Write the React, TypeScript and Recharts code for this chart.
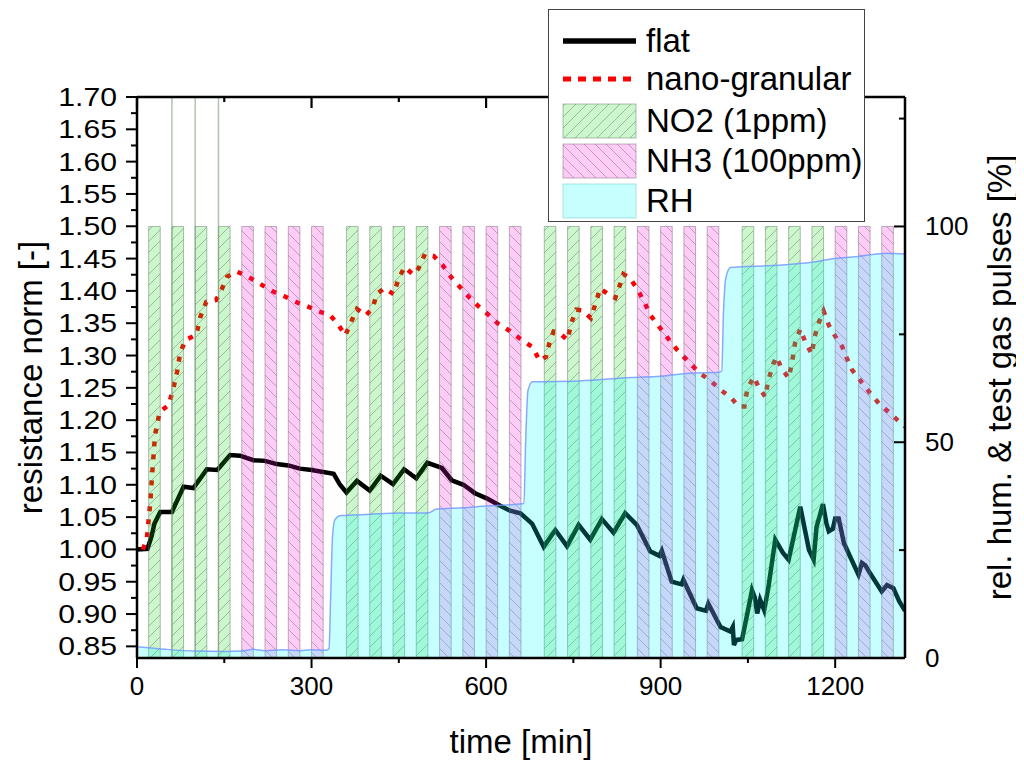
import React from "react";
import {
  ComposedChart,
  Line,
  Area,
  Scatter,
  XAxis,
  YAxis,
  ReferenceLine,
} from "recharts";

// gas pulses: start time [min], each pulse lasts pulseLength minutes at 100 %
const no2Starts = [20, 60, 100, 140, 360, 400, 440, 480, 700, 740, 780, 820, 1040, 1080, 1120, 1160];
const nh3Starts = [180, 220, 260, 300, 520, 560, 600, 640, 860, 900, 940, 980, 1200, 1240, 1280];
const pulseLength = 20;
const pulseLevel = 100;

// thin marker lines above the first NO2 pulses
const spikeTimes = [60, 100, 140];

// relative humidity [%] (time, value)
const rhPoints: [number, number][] = [
  [0, 2.6], [50, 2.0], [100, 1.6], [150, 1.5], [180, 1.6], [200, 2.0], [220, 1.7],
  [250, 1.9], [280, 1.7], [300, 1.9], [325, 1.8], [330, 2.2], [333, 15], [336, 28],
  [340, 32], [350, 33], [400, 33.3], [450, 33.6], [500, 33.6], [515, 34.5], [560, 34.8],
  [600, 35.2], [640, 35.5], [665, 35.8], [668, 50], [672, 62], [680, 64], [760, 64.2],
  [850, 65], [900, 65.3], [950, 66], [1000, 66.2], [1005, 66.5], [1008, 80], [1012, 88],
  [1020, 90.5], [1100, 91], [1160, 91.7], [1200, 92.6], [1230, 92.9], [1290, 93.8], [1320, 93.6],
];

// flat film, normalised resistance (time, value)
const flatPoints: [number, number][] = [
  [0, 1.0], [18, 1.001], [25, 1.02], [30, 1.04], [40, 1.058], [60, 1.058], [80, 1.097],
  [97, 1.095], [120, 1.124], [138, 1.123], [160, 1.146], [177, 1.145], [200, 1.138],
  [220, 1.137], [240, 1.132], [260, 1.13], [280, 1.125], [300, 1.123], [338, 1.117],
  [349, 1.1], [360, 1.088], [378, 1.106], [400, 1.091], [419, 1.114], [440, 1.101],
  [459, 1.124], [480, 1.11], [499, 1.134], [524, 1.126], [541, 1.107], [561, 1.1],
  [581, 1.087], [601, 1.079], [621, 1.069], [641, 1.06], [659, 1.056], [679, 1.04],
  [699, 1.004], [719, 1.03], [739, 1.005], [759, 1.038], [779, 1.015], [799, 1.047],
  [819, 1.026], [839, 1.056], [859, 1.038], [882, 0.997], [898, 0.99], [902, 0.998],
  [919, 0.95], [936, 0.946], [939, 0.953], [962, 0.909], [978, 0.905], [982, 0.916],
  [1003, 0.88], [1020, 0.873], [1024, 0.88], [1026, 0.852], [1030, 0.86], [1040, 0.861],
  [1050, 0.905], [1057, 0.937], [1062, 0.925], [1066, 0.901], [1071, 0.922], [1078, 0.906],
  [1085, 0.94], [1097, 1.015], [1110, 0.995], [1120, 0.984], [1140, 1.066], [1155, 0.999],
  [1163, 0.984], [1168, 1.035], [1179, 1.07], [1185, 1.04], [1189, 1.028], [1196, 1.032],
  [1200, 1.048], [1206, 1.048], [1215, 1.01], [1223, 0.994], [1240, 0.961], [1246, 0.979],
  [1252, 0.975], [1260, 0.963], [1280, 0.935], [1289, 0.945], [1300, 0.94], [1310, 0.92],
  [1320, 0.905],
];

// nano-granular film, normalised resistance (time, value)
const nanoPoints: [number, number][] = [
  [10, 1.0], [17, 1.017], [23, 1.074], [27, 1.128], [31, 1.177], [39, 1.213], [54, 1.223],
  [62, 1.247], [69, 1.275], [74, 1.303], [83, 1.324], [102, 1.332], [109, 1.36], [119, 1.383],
  [136, 1.386], [144, 1.399], [155, 1.422], [171, 1.43], [189, 1.423], [213, 1.41],
  [234, 1.399], [255, 1.391], [278, 1.381], [301, 1.373], [309, 1.369], [331, 1.363],
  [345, 1.349], [358, 1.331], [367, 1.35], [378, 1.372], [393, 1.362], [405, 1.373],
  [412, 1.395], [425, 1.404], [441, 1.395], [450, 1.42], [460, 1.437], [475, 1.425],
  [484, 1.435], [495, 1.457], [510, 1.454], [526, 1.439], [541, 1.42], [557, 1.404],
  [572, 1.389], [587, 1.376], [604, 1.363], [621, 1.349], [641, 1.338], [660, 1.325],
  [680, 1.313], [692, 1.292], [703, 1.298], [709, 1.32], [716, 1.337], [726, 1.335],
  [740, 1.324], [746, 1.349], [755, 1.371], [766, 1.37], [780, 1.358], [788, 1.38],
  [796, 1.404], [808, 1.396], [822, 1.389], [831, 1.412], [836, 1.426], [847, 1.42],
  [859, 1.404], [872, 1.383], [882, 1.363], [898, 1.344], [914, 1.325], [929, 1.308],
  [946, 1.292], [967, 1.273], [987, 1.26], [1004, 1.246], [1021, 1.235], [1034, 1.221],
  [1044, 1.221], [1049, 1.248], [1060, 1.267], [1068, 1.252], [1080, 1.236], [1085, 1.262],
  [1094, 1.288], [1099, 1.298], [1108, 1.28], [1120, 1.265], [1126, 1.29], [1131, 1.319],
  [1140, 1.341], [1149, 1.32], [1160, 1.302], [1164, 1.327], [1172, 1.351], [1180, 1.369],
  [1189, 1.347], [1200, 1.33], [1212, 1.314], [1219, 1.298], [1229, 1.278], [1246, 1.258],
  [1260, 1.242], [1276, 1.225], [1294, 1.211], [1312, 1.196], [1320, 1.19],
];

// axis ticks
const xMajorTicks = [0, 300, 600, 900, 1200];
const xMinorTicks = [150, 450, 750, 1050];
const leftMajorTicks = [
  0.85, 0.9, 0.95, 1.0, 1.05, 1.1, 1.15, 1.2, 1.25, 1.3, 1.35, 1.4, 1.45, 1.5, 1.55, 1.6, 1.65, 1.7,
];
const leftMinorTicks = [
  0.875, 0.925, 0.975, 1.025, 1.075, 1.125, 1.175, 1.225, 1.275, 1.325, 1.375, 1.425, 1.475,
  1.525, 1.575, 1.625, 1.675,
];
const rightMajorTicks = [0, 50, 100];
const rightMinorTicks = [25, 75, 125];

const RIGHT_MAX = 130;
const FONT = "Arial, 'Liberation Sans', Helvetica, sans-serif";
const TICK_FONT = 26;

const toRows = (pts: [number, number][]) => pts.map(([t, v]) => ({ t, v }));

function pulseRows(starts: number[]) {
  const rows = [{ t: 0, v: 0 }];
  starts.forEach((s) => {
    rows.push({ t: s, v: pulseLevel });
    rows.push({ t: s + pulseLength, v: 0 });
  });
  rows.push({ t: 1320, v: 0 });
  return rows;
}

const isIn = (list: number[], v: number) => list.some((m) => Math.abs(m - v) < 1e-6);

function BottomTick(props: any) {
  const { x, y, payload } = props;
  const major = isIn(xMajorTicks, payload.value);
  return (
    <g>
      <line x1={x} x2={x} y1={y} y2={y + (major ? 10 : 5)} stroke="#000" strokeWidth={2} />
      {major && (
        <text x={x} y={y + 37} textAnchor="middle" fontSize={TICK_FONT} fontFamily={FONT} fill="#000">
          {payload.value}
        </text>
      )}
    </g>
  );
}

// top frame: same axis, drawn inward from the top edge
function TopTick(props: any) {
  const { x, y, payload } = props;
  const major = isIn(xMajorTicks, payload.value);
  return (
    <path
      d={`M${x},${y} L${x},${y + (major ? 11 : 5)}`}
      stroke="#000"
      strokeWidth={2.2}
      fill="none"
    />
  );
}

function LeftTick(props: any) {
  const { x, y, payload } = props;
  const major = isIn(leftMajorTicks, payload.value);
  return (
    <g>
      <line x1={x} x2={x - (major ? 11 : 6)} y1={y} y2={y} stroke="#000" strokeWidth={2} />
      {major && (
        <text
          x={0}
          y={9}
          transform={`translate(${x - 20}, ${y}) scale(1.16, 1)`}
          textAnchor="end"
          fontSize={TICK_FONT}
          fontFamily={FONT}
          fill="#000"
        >
          {payload.value.toFixed(2)}
        </text>
      )}
    </g>
  );
}

function RightTick(props: any) {
  const { x, y, payload } = props;
  const major = isIn(rightMajorTicks, payload.value);
  return (
    <g>
      <line x1={x} x2={x - (major ? 11 : 6)} y1={y} y2={y} stroke="#000" strokeWidth={2} />
      {major && (
        <text x={x + 20} y={y + 9} textAnchor="start" fontSize={TICK_FONT} fontFamily={FONT} fill="#000">
          {payload.value}
        </text>
      )}
    </g>
  );
}

const axisLine = { stroke: "#000", strokeWidth: 2.5 };

function Legend() {
  const rowText = (y: number, label: string) => (
    <text x={97} y={y + 11} fontSize={33} fontFamily={FONT} fill="#000">
      {label}
    </text>
  );
  return (
    <div
      style={{
        position: "absolute",
        left: 540,
        top: 1,
        width: 317,
        height: 213,
        background: "#fff",
        border: "1px solid #444",
        boxSizing: "border-box",
      }}
    >
      <svg width={315} height={211}>
        <line x1={14} x2={87} y1={31} y2={31} stroke="#000" strokeWidth={5.5} />
        {rowText(31, "flat")}
        <line x1={14} x2={87} y1={69} y2={69} stroke="#ff0000" strokeWidth={5} strokeDasharray="8 7" />
        {rowText(69, "nano-granular")}
        <rect x={14} y={94} width={73} height={34} fill="url(#hatchNO2)" stroke="rgba(90,110,90,0.45)" />
        {rowText(111, "NO2 (1ppm)")}
        <rect x={14} y={134} width={73} height={34} fill="url(#hatchNH3)" stroke="rgba(110,90,110,0.45)" />
        {rowText(151, "NH3 (100ppm)")}
        <rect x={14} y={174} width={73} height={34} fill="rgba(0,255,255,0.22)" stroke="rgba(100,200,200,0.5)" />
        {rowText(191, "RH")}
      </svg>
    </div>
  );
}

export default function App() {
  const no2Rows = pulseRows(no2Starts);
  const nh3Rows = pulseRows(nh3Starts);
  const flatRows = toRows(flatPoints);
  const allXTicks = [...xMajorTicks, ...xMinorTicks].sort((a, b) => a - b);
  const allLeftTicks = [...leftMajorTicks, ...leftMinorTicks].sort((a, b) => a - b);
  const allRightTicks = [...rightMajorTicks, ...rightMinorTicks].sort((a, b) => a - b);

  return (
    <div style={{ position: "relative", width: 1016, height: 758 }}>
      <ComposedChart width={1016} height={758} margin={{ top: 79, right: 0, bottom: 0, left: 0 }}>
        <defs>
          <pattern id="hatchNO2" patternUnits="userSpaceOnUse" width={11} height={11}>
            <rect width={11} height={11} fill="rgb(0,215,0)" fillOpacity={0.2} />
            <path
              d="M0,11 L11,0 M-3,3 L3,-3 M8,14 L14,8"
              stroke="#444"
              strokeOpacity={0.35}
              strokeWidth={1}
            />
          </pattern>
          <pattern id="hatchNH3" patternUnits="userSpaceOnUse" width={11} height={11}>
            <rect width={11} height={11} fill="rgb(255,0,220)" fillOpacity={0.2} />
            <path
              d="M0,0 L11,11 M-3,8 L3,14 M8,-3 L14,3"
              stroke="#444"
              strokeOpacity={0.35}
              strokeWidth={1}
            />
          </pattern>
        </defs>
        <XAxis
          dataKey="t"
          type="number"
          domain={[0, 1320]}
          allowDataOverflow
          ticks={allXTicks}
          interval={0}
          height={108}
          tickSize={0}
          tickMargin={0}
          tickLine={false}
          axisLine={axisLine}
          tick={BottomTick}
          label={{
            content: (p: any) => (
              <text
                x={p.viewBox.x + p.viewBox.width / 2}
                y={p.viewBox.y + 95}
                textAnchor="middle"
                fontSize={33}
                fontFamily={FONT}
                fill="#000"
              >
                time [min]
              </text>
            ),
          }}
        />
        {/* top frame axis: 10 px box, ticks point down into the plot */}
        <XAxis
          xAxisId="top"
          orientation="top"
          dataKey="t"
          type="number"
          domain={[0, 1320]}
          allowDataOverflow
          ticks={allXTicks}
          interval={0}
          height={10}
          tickSize={0}
          tickMargin={0}
          tickLine={false}
          axisLine={axisLine}
          tick={TopTick}
        />
        <YAxis
          yAxisId="left"
          type="number"
          domain={[0.832, 1.7]}
          allowDataOverflow
          ticks={allLeftTicks}
          interval={0}
          width={129}
          tickSize={0}
          tickMargin={0}
          tickLine={false}
          axisLine={axisLine}
          tick={LeftTick}
          label={{
            content: (p: any) => {
              const cx = 34;
              const cy = p.viewBox.y + p.viewBox.height / 2;
              return (
                <text
                  x={cx}
                  y={cy}
                  transform={`rotate(-90, ${cx}, ${cy})`}
                  textAnchor="middle"
                  fontSize={33}
                  fontFamily={FONT}
                  fill="#000"
                >
                  resistance norm [-]
                </text>
              );
            },
          }}
        />
        <YAxis
          yAxisId="right"
          orientation="right"
          type="number"
          domain={[0, RIGHT_MAX]}
          allowDataOverflow
          ticks={allRightTicks}
          interval={0}
          width={119}
          tickSize={0}
          tickMargin={0}
          tickLine={false}
          axisLine={axisLine}
          tick={RightTick}
          label={{
            content: (p: any) => {
              const cx = p.viewBox.x + 106;
              const cy = p.viewBox.y + p.viewBox.height / 2;
              return (
                <text
                  x={cx}
                  y={cy}
                  transform={`rotate(-90, ${cx}, ${cy})`}
                  textAnchor="middle"
                  fontSize={33}
                  fontFamily={FONT}
                  fill="#000"
                >
                  rel. hum. &amp; test gas pulses [%]
                </text>
              );
            },
          }}
        />

        {/* hidden copy that ties the top axis to data */}
        <Line
          xAxisId="top"
          yAxisId="left"
          data={flatRows}
          dataKey="v"
          stroke="none"
          dot={false}
          activeDot={false}
          isAnimationActive={false}
        />
        <Line
          yAxisId="left"
          data={flatRows}
          dataKey="v"
          type="linear"
          stroke="#000"
          strokeWidth={4.5}
          dot={false}
          activeDot={false}
          isAnimationActive={false}
          zIndex={90}
        />
        <Line
          yAxisId="left"
          data={toRows(nanoPoints)}
          dataKey="v"
          type="linear"
          stroke="#ff0000"
          strokeWidth={4.5}
          strokeDasharray="5 8"
          dot={false}
          activeDot={false}
          isAnimationActive={false}
          zIndex={90}
        />
        <Area
          yAxisId="right"
          data={no2Rows}
          dataKey="v"
          type="stepAfter"
          fill="url(#hatchNO2)"
          fillOpacity={1}
          stroke="rgba(90,110,90,0.45)"
          strokeWidth={1}
          dot={false}
          activeDot={false}
          isAnimationActive={false}
          zIndex={100}
        />
        <Area
          yAxisId="right"
          data={nh3Rows}
          dataKey="v"
          type="stepAfter"
          fill="url(#hatchNH3)"
          fillOpacity={1}
          stroke="rgba(110,90,110,0.45)"
          strokeWidth={1}
          dot={false}
          activeDot={false}
          isAnimationActive={false}
          zIndex={100}
        />
        <Area
          yAxisId="right"
          data={toRows(rhPoints)}
          dataKey="v"
          type="monotone"
          fill="rgb(0,255,255)"
          fillOpacity={0.22}
          stroke="rgba(110,150,255,0.8)"
          strokeWidth={1.5}
          dot={false}
          activeDot={false}
          isAnimationActive={false}
          zIndex={110}
        />
        {spikeTimes.map((t) => (
          <ReferenceLine
            key={`spike-${t}`}
            x={t}
            yAxisId="right"
            stroke="rgba(120,160,120,0.6)"
            strokeWidth={1.5}
          />
        ))}
      </ComposedChart>
      <Legend />
    </div>
  );
}
